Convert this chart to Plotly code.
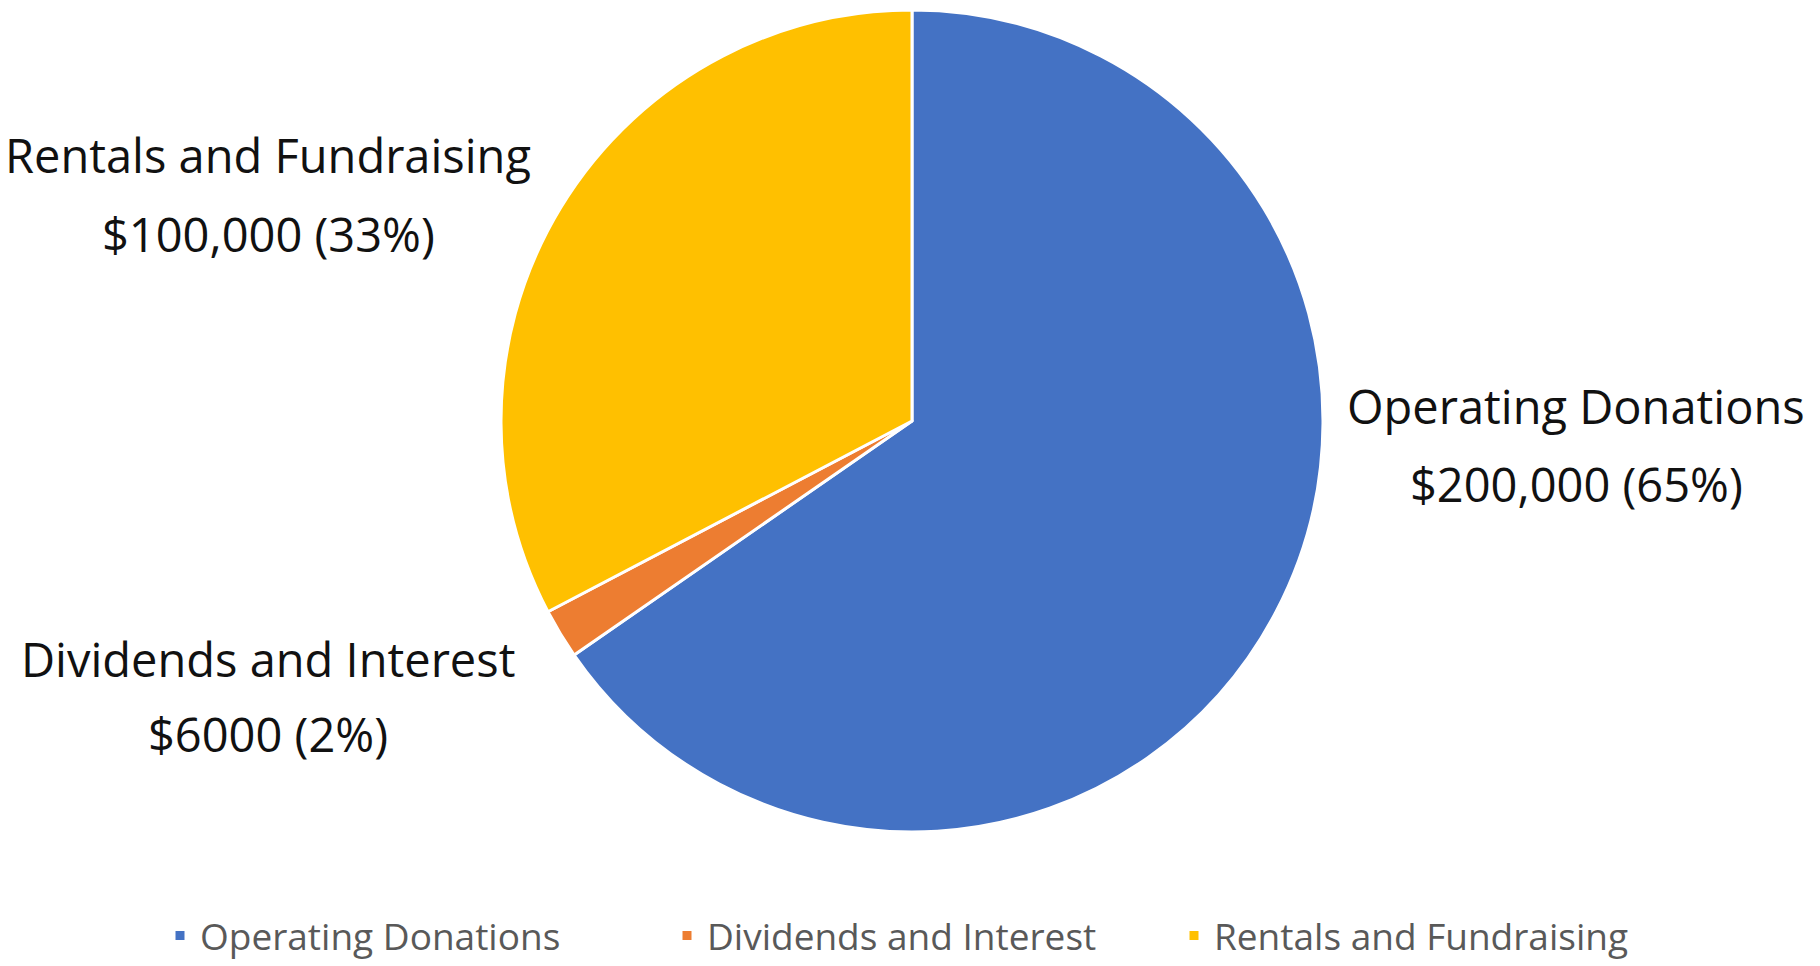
import plotly.graph_objects as go

categories = ["Operating Donations", "Dividends and Interest", "Rentals and Fundraising"]
values = [200000, 6000, 100000]
value_labels = ["$200,000 (65%)", "$6000 (2%)", "$100,000 (33%)"]
colors = ["#4472C4", "#ED7D31", "#FFC000"]

W, H = 1820, 966
FONT = "Open Sans"

# pie geometry (pixels)
CX, CY, R = 912, 421, 411

fig = go.Figure()
fig.add_trace(go.Pie(
    labels=categories,
    values=values,
    sort=False,
    direction="clockwise",
    rotation=0,
    marker=dict(colors=colors, line=dict(color="white", width=3)),
    textinfo="none",
    hoverinfo="label+value+percent",
    domain=dict(x=[(CX - R) / W, (CX + R) / W], y=[1 - (CY + R) / H, 1 - (CY - R) / H]),
))

# label positions (pixel centres: x, y of name line, y of value line)
label_pos = [(1576, 406, 484), (268, 659, 734), (268, 155, 234)]
for name, txt, (px, py1, py2) in zip(categories, value_labels, label_pos):
    for t, py in ((name, py1), (txt, py2)):
        fig.add_annotation(
            x=px / W, y=1 - py / H, xref="paper", yref="paper",
            text=t, showarrow=False,
            font=dict(family=FONT, size=47, color="#111111"),
            align="center", xanchor="center", yanchor="middle",
        )

fig.update_layout(
    width=W, height=H,
    margin=dict(l=0, r=0, t=0, b=0, autoexpand=False),
    paper_bgcolor="white", plot_bgcolor="white",
    showlegend=True,
    legend=dict(
        orientation="h", x=160 / W, xanchor="left", y=1 - 936 / H, yanchor="middle",
        font=dict(family=FONT, size=37, color="#595959"),
        itemwidth=30, traceorder="normal",
        entrywidth=462, entrywidthmode="pixels",
    ),
)

fig.write_html("out.html")
